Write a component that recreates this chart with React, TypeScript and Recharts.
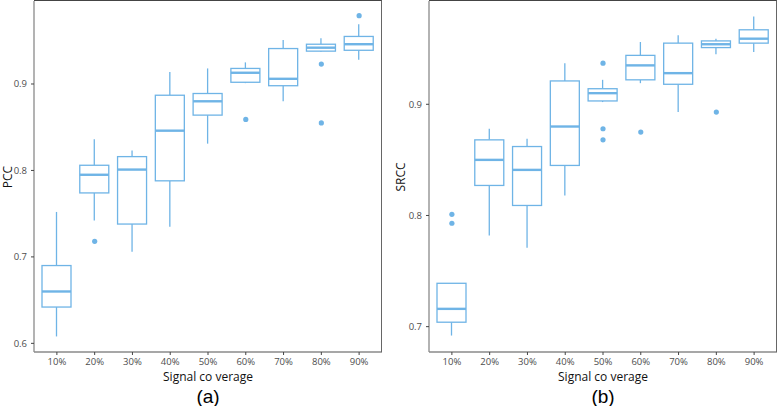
import React from "react";
import { Bar, ComposedChart, Line, XAxis, YAxis } from "recharts";

const categories = ["10%", "20%", "30%", "40%", "50%", "60%", "70%", "80%", "90%"];

// PCC box stats (whisker min, Q1, median, Q3, whisker max) and outliers
const pccMin = [0.608, 0.742, 0.706, 0.735, 0.831, 0.901, 0.88, 0.937, 0.928];
const pccQ1 = [0.642, 0.774, 0.738, 0.788, 0.864, 0.902, 0.898, 0.938, 0.939];
const pccMedian = [0.66, 0.795, 0.801, 0.846, 0.88, 0.913, 0.906, 0.942, 0.946];
const pccQ3 = [0.69, 0.806, 0.816, 0.887, 0.889, 0.918, 0.941, 0.946, 0.955];
const pccMax = [0.752, 0.836, 0.823, 0.914, 0.918, 0.925, 0.951, 0.953, 0.969];
const pccOutliers = [[], [0.718], [], [], [], [0.859], [], [0.923, 0.855], [0.979]];

// SRCC
const srccMin = [0.692, 0.782, 0.771, 0.818, 0.902, 0.919, 0.893, 0.945, 0.947];
const srccQ1 = [0.704, 0.827, 0.809, 0.845, 0.903, 0.922, 0.918, 0.951, 0.955];
const srccMedian = [0.716, 0.85, 0.841, 0.88, 0.91, 0.935, 0.928, 0.954, 0.959];
const srccQ3 = [0.739, 0.868, 0.862, 0.921, 0.914, 0.944, 0.955, 0.957, 0.967];
const srccMax = [0.739, 0.878, 0.869, 0.937, 0.922, 0.956, 0.962, 0.959, 0.979];
const srccOutliers = [[0.801, 0.793], [], [], [], [0.937, 0.878, 0.868], [0.875], [], [0.893], []];

const pccTicks = [0.6, 0.7, 0.8, 0.9];
const srccTicks = [0.7, 0.8, 0.9];

const BLUE = "#6fb4e6";

function buildRows(min: number[], q1: number[], med: number[], q3: number[], max: number[], out: number[][]) {
  return categories.map((cat, i) => ({
    cat,
    range: [min[i], max[i]],
    min: min[i],
    q1: q1[i],
    median: med[i],
    q3: q3[i],
    max: max[i],
    o0: out[i][0] ?? null,
    o1: out[i][1] ?? null,
    o2: out[i][2] ?? null,
  }));
}

const pccRows = buildRows(pccMin, pccQ1, pccMedian, pccQ3, pccMax, pccOutliers);
const srccRows = buildRows(srccMin, srccQ1, srccMedian, srccQ3, srccMax, srccOutliers);

function BoxShape(props: any) {
  const { x, y, width, height } = props;
  const p = props.payload ?? props;
  const top = Math.min(y, y + height);
  const h = Math.abs(height);
  const span = p.max - p.min;
  const py = (v: number) => (span > 0 ? top + ((p.max - v) / span) * h : top);
  const cx = x + width / 2;
  return (
    <g stroke={BLUE} fill="none">
      <line x1={cx} x2={cx} y1={py(p.max)} y2={py(p.q3)} strokeWidth={1.3} />
      <line x1={cx} x2={cx} y1={py(p.q1)} y2={py(p.min)} strokeWidth={1.3} />
      <rect x={x} y={py(p.q3)} width={width} height={py(p.q1) - py(p.q3)} fill="#fff" strokeWidth={1.3} />
      <line x1={x} x2={x + width} y1={py(p.median)} y2={py(p.median)} strokeWidth={2.4} />
    </g>
  );
}

const tickStyle = { fontSize: 9.5, fill: "#4d4d4d", fontFamily: "'Open Sans', sans-serif" };

function Panel({ rows, domain, ticks, yLabel, letter, left, width, yWidth, right, labelX }: any) {
  const plotW = 348;
  return (
    <div style={{ position: "absolute", left, top: 0, width, height: 406 }}>
      <ComposedChart width={width} height={406} data={rows} margin={{ top: 1, right, bottom: 34, left: 0 }}>
        <XAxis
          dataKey="cat"
          height={20}
          padding={{ left: 4, right: 4 }}
          tick={tickStyle}
          tickSize={3}
          tickMargin={3}
          axisLine={{ stroke: "#8a8a8a", strokeWidth: 1.3 }}
          tickLine={{ stroke: "#444" }}
          interval={0}
        />
        <YAxis
          width={yWidth}
          type="number"
          domain={domain}
          ticks={ticks}
          allowDataOverflow
          tickFormatter={(v: number) => v.toFixed(1)}
          tick={tickStyle}
          tickSize={3}
          tickMargin={4}
          axisLine={{ stroke: "#8a8a8a", strokeWidth: 1.3 }}
          tickLine={{ stroke: "#444" }}
        />
        <Bar dataKey="range" barSize={29} shape={<BoxShape />} isAnimationActive={false} />
        {["o0", "o1", "o2"].map((k) => (
          <Line
            key={k}
            dataKey={k}
            stroke="none"
            connectNulls={false}
            dot={{ r: 2.6, fill: BLUE, stroke: "none" }}
            activeDot={false}
            isAnimationActive={false}
          />
        ))}
      </ComposedChart>
      <div
        style={{
          position: "absolute",
          left: yWidth,
          top: 0,
          width: plotW,
          height: 352,
          boxSizing: "border-box",
          borderTop: "1px solid #444",
          borderRight: "1px solid #666",
          pointerEvents: "none",
        }}
      />
      <div
        style={{
          position: "absolute",
          left: labelX,
          top: 177,
          transform: "translate(-50%, -50%) rotate(-90deg)",
          fontSize: 12,
          fontFamily: "'Open Sans', sans-serif",
          color: "#111",
          whiteSpace: "nowrap",
          lineHeight: 1,
        }}
      >
        {yLabel}
      </div>
      <div
        style={{
          position: "absolute",
          left: yWidth,
          width: plotW,
          top: 371,
          textAlign: "center",
          fontSize: 12,
          fontFamily: "'Open Sans', sans-serif",
          color: "#111",
          lineHeight: 1,
        }}
      >
        Signal co verage
      </div>
      <div
        style={{
          position: "absolute",
          left: yWidth,
          width: plotW,
          top: 387,
          textAlign: "center",
          fontSize: 19,
          fontFamily: "'Liberation Sans', Arial, sans-serif",
          color: "#000",
          lineHeight: 1,
        }}
      >
        {letter}
      </div>
    </div>
  );
}

export default function App() {
  return (
    <div style={{ position: "absolute", left: 0, top: 0, width: 778, height: 406, background: "#fff", overflow: "hidden" }}>
      <Panel rows={pccRows} domain={[0.59, 0.996]} ticks={pccTicks} yLabel="PCC" letter="(a)" left={0} width={390} yWidth={34} right={8} labelX={8} />
      <Panel rows={srccRows} domain={[0.6772, 0.9929]} ticks={srccTicks} yLabel="SRCC" letter="(b)" left={390} width={388} yWidth={39} right={1} labelX={11} />
    </div>
  );
}
